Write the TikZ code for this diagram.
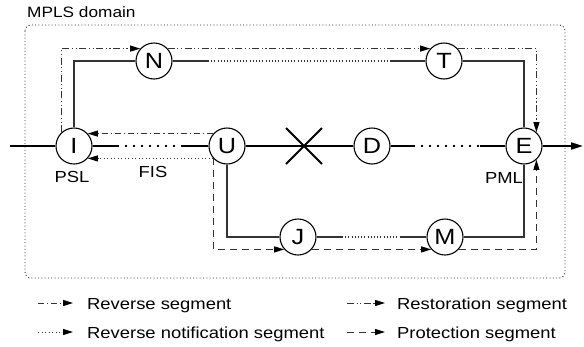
\documentclass[tikz,border=0pt]{standalone}
\usepackage{fontspec}
\setmainfont{Liberation Sans}[FakeStretch=1.15]
\usetikzlibrary{arrows.meta,shapes.misc}

\begin{document}
\begin{tikzpicture}[x=1pt,y=-1pt,
  lsr/.style={circle,draw,line width=1.1pt,minimum size=36pt,inner sep=0pt,
    font=\fontsize{22}{22}\selectfont},
  lbl/.style={font=\fontsize{16}{16}\selectfont,inner sep=0pt,anchor=base},
  legtext/.style={font=\fontsize{16}{16}\selectfont,inner sep=0pt,anchor=base west},
  mainline/.style={line width=2pt},
  maindots/.style={line width=2pt,dash pattern=on 2pt off 6pt},
  work/.style={line width=1.1pt,black!80},
  workdots/.style={line width=1.1pt,black!80,dash pattern=on 1pt off 2.2pt},
  tip/.style={-{Triangle[length=10pt,width=6pt,color=black]}},
  reverseseg/.style={tip,line width=1pt,black!80,
    dash pattern=on 6pt off 3pt on 1.2pt off 3pt},
  notifyseg/.style={tip,line width=1pt,black!80,dash pattern=on 1pt off 2.5pt},
  restoreseg/.style={tip,line width=1pt,black!80,
    dash pattern=on 7pt off 2.5pt on 1.2pt off 2.5pt on 1.2pt off 2.5pt},
  protectseg/.style={tip,line width=1pt,black!80,dash pattern=on 7pt off 5pt},
  domainframe/.style={line width=0.9pt,black!80,dash pattern=on 1pt off 2.3pt,rounded corners=6pt},
]
\useasboundingbox (0,0) rectangle (584,346);

% MPLS domain frame
\draw[domainframe] (25,25) rectangle (565,278);
\node[legtext,font=\fontsize{15}{15}\selectfont] (dom) at (27,17) {MPLS domain};

% label switching routers
\node[lsr] (I) at (74,146) {I};
\node[lsr] (N) at (154,61) {N};
\node[lsr] (T) at (444,61) {T};
\node[lsr] (U) at (227,146) {U};
\node[lsr] (D) at (372,146) {D};
\node[lsr] (E) at (524,146) {E};
\node[lsr] (J) at (298,237) {J};
\node[lsr] (M) at (445,237) {M};

% failed link
\node[cross out,draw,line width=2pt,minimum size=34pt,inner sep=0pt] (X) at (304,146) {};

% working path
\coordinate (in) at (10,146);
\coordinate (out) at (583,146);
\coordinate (iu1) at (117,146);
\coordinate (iu2) at (183,146);
\coordinate (de1) at (413,146);
\coordinate (de2) at (480,146);
\draw[mainline] (in) -- (I);
\draw[mainline] (I) -- (iu1);
\draw[maindots] (iu1) -- (iu2);
\draw[mainline] (iu2) -- (U);
\draw[mainline] (U) -- (D);
\draw[mainline] (D) -- (de1);
\draw[maindots] (de1) -- (de2);
\draw[mainline] (de2) -- (E);
\draw[mainline,-{Triangle[length=12pt,width=7pt]}] (E) -- (out);

% upper backup path
\coordinate (nt1) at (208,61);
\coordinate (nt2) at (390,61);
\draw[work] (I) |- (N);
\draw[work] (N) -- (nt1);
\draw[workdots] (nt1) -- (nt2);
\draw[work] (nt2) -- (T);
\draw[work] (T) -| (E);

% lower backup path
\coordinate (jm1) at (342,237);
\coordinate (jm2) at (400,237);
\draw[work] (U) |- (J);
\draw[work] (J) -- (jm1);
\draw[workdots] (jm1) -- (jm2);
\draw[work] (jm2) -- (M);
\draw[work] (M) -| (E);

% restoration segment
\coordinate (r1) at (I.132 |- N.138);
\coordinate (r2) at (E.48 |- T.42);
\draw[restoreseg] (I.132) -- (r1) -- (N.138);
\draw[restoreseg] (N.42) -- (T.138);
\draw[restoreseg] (T.42) -- (r2) -- (E.48);

% reverse and notification segments
\draw[reverseseg] (U.138) -- (I.42);
\draw[notifyseg] (U.222) -- (I.318);

% protection segment
\coordinate (p1) at (U.222 |- J.222);
\coordinate (p2) at (E.312 |- M.318);
\draw[protectseg] (U.222) -- (p1) -- (J.222);
\draw[protectseg] (J.318) -- (M.222);
\draw[protectseg] (M.318) -- (p2) -- (E.312);

% labels
\node[lbl] (psl) at (72,182) {PSL};
\node[lbl] (fis) at (153,177) {FIS};
\node[lbl] (pml) at (504,183) {PML};

% legend
\coordinate (la1) at (38,303);  \coordinate (lb1) at (73,303);
\coordinate (la2) at (38,332);  \coordinate (lb2) at (73,332);
\coordinate (la3) at (347,303); \coordinate (lb3) at (385,303);
\coordinate (la4) at (347,332); \coordinate (lb4) at (385,332);
\draw[reverseseg] (la1) -- (lb1);
\draw[notifyseg] (la2) -- (lb2);
\draw[restoreseg] (la3) -- (lb3);
\draw[protectseg] (la4) -- (lb4);
\node[legtext] (t1) at (87,309) {Reverse segment};
\node[legtext] (t2) at (87,338) {Reverse notification segment};
\node[legtext] (t3) at (397,309) {Restoration segment};
\node[legtext] (t4) at (397,338) {Protection segment};
\end{tikzpicture}
\end{document}
